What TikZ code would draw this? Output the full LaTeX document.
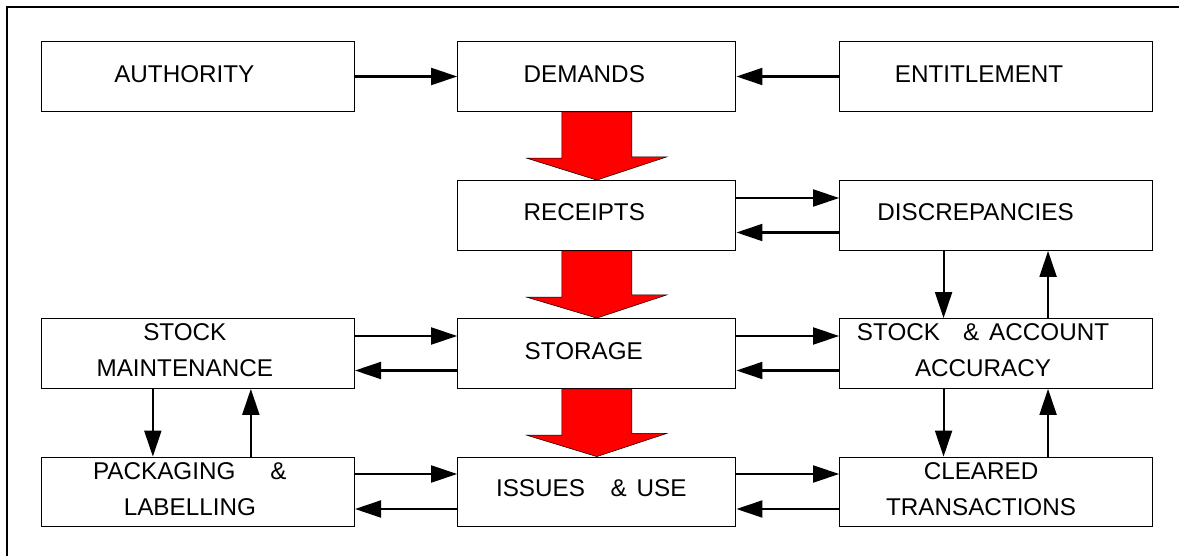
\documentclass[tikz,border=0pt]{standalone}
\usepackage{fontspec}
\setmainfont{Liberation Sans}
\usetikzlibrary{arrows.meta,positioning}
\usetikzlibrary{calc}

\begin{document}
\begin{tikzpicture}[
    box/.style = {draw, line width = 0.75pt, minimum height = 1.39cm, inner sep = 0},
    boxtext/.style = {font = \fontsize{13.8pt}{20.5pt}\selectfont, align = center, inner sep = 0},
    conn/.style = {line width = 1.15pt, -{Triangle[length = 0.52cm, width = 0.34cm]}},
    bigarrow/.style = {fill = red, draw = black, line width = 0.3pt}
  ]

        % fix the page size
        \useasboundingbox (0,0) rectangle (23.58,-11.12);

        % the outer frame, cut off at right and bottom
        \draw[line width = 0.6pt] (0.14,-11.12) -- (0.14,-0.14) -- (23.58,-0.14);

        % draw the boxes
        \node[box, minimum width = 6.26cm] (authority) at (3.957,-1.53) {};
        \node[box, minimum width = 5.56cm] (demands) at (11.936,-1.53) {};
        \node[box, minimum width = 6.25cm] (entitlement) at (19.921,-1.53) {};
        \node[box, minimum width = 5.56cm] (receipts) at (11.936,-4.31) {};
        \node[box, minimum width = 6.25cm] (discrepancies) at (19.921,-4.31) {};
        \node[box, minimum width = 6.26cm] (stock_maint) at (3.957,-7.07) {};
        \node[box, minimum width = 5.56cm] (storage) at (11.936,-7.07) {};
        \node[box, minimum width = 6.25cm] (stock_acc) at (19.921,-7.07) {};
        \node[box, minimum width = 6.26cm] (pack_label) at (3.957,-9.84) {};
        \node[box, minimum width = 5.56cm] (issues_use) at (11.936,-9.84) {};
        \node[box, minimum width = 6.25cm] (cleared_trans) at (19.921,-9.84) {};

        % the texts
        \node[boxtext] (authority_text) at ($(authority) + (-0.27,0.05)$) {AUTHORITY};
        \node[boxtext] (demands_text) at ($(demands) + (-0.25,0.05)$) {DEMANDS};
        \node[boxtext] (entitlement_text) at ($(entitlement) + (-0.34,0.05)$) {ENTITLEMENT};
        \node[boxtext] (receipts_text) at ($(receipts) + (-0.25,0.07)$) {RECEIPTS};
        \node[boxtext] (discrepancies_text) at ($(discrepancies) + (-0.41,0.07)$) {DISCREPANCIES};
        \node[boxtext] (stock_maint_text) at ($(stock_maint) + (-0.26,0.07)$) {STOCK\\MAINTENANCE};
        \node[boxtext] (storage_text) at ($(storage) + (-0.26,0.04)$) {STORAGE};
        \node[boxtext] (stock_acc_text) at ($(stock_acc) + (-0.26,0.06)$) {STOCK\hspace{0.46cm}\&\hspace{0.2cm}ACCOUNT\\ACCURACY};
        \node[boxtext] (pack_label_text) at ($(pack_label) + (-0.16,0.06)$) {PACKAGING\hspace{0.7cm}\&\\LABELLING};
        \node[boxtext] (issues_use_text) at ($(issues_use) + (-0.11,0.07)$) {ISSUES\hspace{0.51cm}\&\hspace{0.2cm}USE};
        \node[boxtext] (cleared_trans_text) at ($(cleared_trans) + (-0.30,0.06)$) {CLEARED\\TRANSACTIONS};

        % the big red arrows
        \draw[bigarrow] ($(demands.south) + (-0.7,0)$) -- ++(0,-0.926) -- ++(-0.7,0) -- (receipts.north) -- ++(1.4,0.464) -- ++(-0.7,0) -- ($(demands.south) + (0.7,0)$) -- cycle;
        \draw[bigarrow] ($(receipts.south) + (-0.7,0)$) -- ++(0,-0.926) -- ++(-0.7,0) -- (storage.north) -- ++(1.4,0.464) -- ++(-0.7,0) -- ($(receipts.south) + (0.7,0)$) -- cycle;
        \draw[bigarrow] ($(storage.south) + (-0.7,0)$) -- ++(0,-0.926) -- ++(-0.7,0) -- (issues_use.north) -- ++(1.4,0.464) -- ++(-0.7,0) -- ($(storage.south) + (0.7,0)$) -- cycle;

        % draw the horizontal arrows
        \draw[conn] (authority.east) -- (demands.west);
        \draw[conn] (entitlement.west) -- (demands.east);
        \draw[conn] ($(receipts.east) + (0,0.35)$) -- ($(discrepancies.west) + (0,0.35)$);
        \draw[conn] ($(discrepancies.west) + (0,-0.34)$) -- ($(receipts.east) + (0,-0.34)$);
        \draw[conn] ($(stock_maint.east) + (0,0.35)$) -- ($(storage.west) + (0,0.35)$);
        \draw[conn] ($(storage.west) + (0,-0.34)$) -- ($(stock_maint.east) + (0,-0.34)$);
        \draw[conn] ($(storage.east) + (0,0.35)$) -- ($(stock_acc.west) + (0,0.35)$);
        \draw[conn] ($(stock_acc.west) + (0,-0.34)$) -- ($(storage.east) + (0,-0.34)$);
        \draw[conn] ($(pack_label.east) + (0,0.36)$) -- ($(issues_use.west) + (0,0.36)$);
        \draw[conn] ($(issues_use.west) + (0,-0.34)$) -- ($(pack_label.east) + (0,-0.34)$);
        \draw[conn] ($(issues_use.east) + (0,0.36)$) -- ($(cleared_trans.west) + (0,0.36)$);
        \draw[conn] ($(cleared_trans.west) + (0,-0.34)$) -- ($(issues_use.east) + (0,-0.34)$);

        % draw the vertical arrows
        \draw[conn] ($(stock_maint.south) + (-0.90,0)$) -- ($(pack_label.north) + (-0.90,0)$);
        \draw[conn] ($(pack_label.north) + (1.06,0)$) -- ($(stock_maint.south) + (1.06,0)$);
        \draw[conn] ($(discrepancies.south) + (-1.05,0)$) -- ($(stock_acc.north) + (-1.05,0)$);
        \draw[conn] ($(stock_acc.north) + (1.04,0)$) -- ($(discrepancies.south) + (1.04,0)$);
        \draw[conn] ($(stock_acc.south) + (-1.05,0)$) -- ($(cleared_trans.north) + (-1.05,0)$);
        \draw[conn] ($(cleared_trans.north) + (1.04,0)$) -- ($(stock_acc.south) + (1.04,0)$);

\end{tikzpicture}
\end{document}
